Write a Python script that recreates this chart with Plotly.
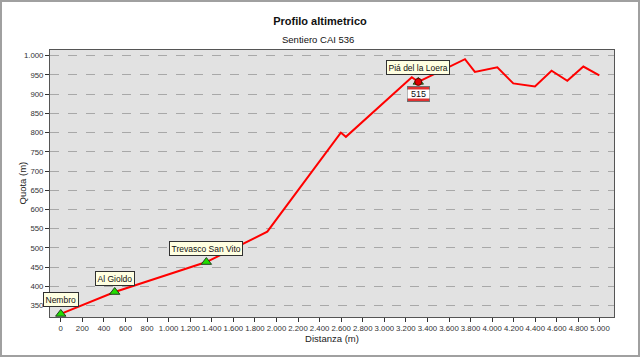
import plotly.graph_objects as go

# Profile data (distance in m, altitude in m)
distance = [0, 500, 1350, 1915, 2597, 2644, 3255, 3315, 3748, 3840, 4048, 4196, 4397, 4551, 4697, 4846, 4994]
altitude = [328, 385, 463, 542, 800, 789, 944, 932, 991, 958, 970, 928, 920, 961, 935, 972, 949]

# Waypoints
wp_names = ["Nembro", "Al Gioldo", "Trevasco San Vito", "Piá del la Loera"]
wp_dist = [0, 500, 1350, 3315]
wp_alt = [328, 385, 463, 932]

# Trail sign
sign_text = "515"
sign_dist = [3315]
sign_alt = [932]

FONT = "Liberation Sans, Arial, sans-serif"

fig = go.Figure()
fig.add_trace(go.Scatter(x=distance, y=altitude, mode="lines",
                         line=dict(color="#ff0000", width=2), hoverinfo="skip"))
fig.add_trace(go.Scatter(x=wp_dist, y=wp_alt, mode="markers",
                         marker=dict(symbol="triangle-up", size=9, color="#22dd00",
                                     line=dict(color="#204020", width=1))))
fig.add_trace(go.Scatter(x=sign_dist, y=sign_alt, mode="markers",
                         marker=dict(symbol="circle", size=7, color="#e00000",
                                     line=dict(color="#600000", width=1))))

for n, xd, yd in zip(wp_names, wp_dist, wp_alt):
    fig.add_annotation(x=xd, y=yd, text=n, showarrow=False, yshift=14,
                       bgcolor="#ffffe1", bordercolor="#303030", borderwidth=1, borderpad=1.5,
                       font=dict(family=FONT, size=8.5, color="#111111"))

for xd, yd in zip(sign_dist, sign_alt):
    fig.add_annotation(x=xd, y=yd, text="", showarrow=False, yshift=-12,
                       width=21, height=14, bgcolor="#e03030",
                       bordercolor="#707070", borderwidth=1, borderpad=0)
    fig.add_annotation(x=xd, y=yd, text=sign_text, showarrow=False, yshift=-12,
                       width=21, height=8, bgcolor="#ffffff", borderpad=0,
                       font=dict(family=FONT, size=9, color="#111111"))

fig.update_layout(
    width=640, height=357,
    margin=dict(l=50, r=26, t=50, b=40),
    paper_bgcolor="#ffffff", plot_bgcolor="#e2e2e2",
    showlegend=False,
    separators=",.",
    title=dict(text="<b>Profilo altimetrico</b>",
               x=0.5, xref="container", y=1 - 21 / 357, yref="container", yanchor="middle",
               font=dict(family=FONT, size=11, color="#111111")),
    font=dict(family=FONT, size=8, color="#222222"),
)
fig.add_annotation(text="Sentiero CAI 536", xref="paper", yref="paper",
                   x=(318 - 50) / 564, y=(317 - 40) / 267, showarrow=False,
                   xanchor="center", yanchor="middle",
                   font=dict(family=FONT, size=9.5, color="#111111"))
fig.add_annotation(text="Quota (m)", xref="paper", yref="paper",
                   x=(22 - 50) / 564, y=0.5, showarrow=False, textangle=-90,
                   xanchor="center", yanchor="middle",
                   font=dict(family=FONT, size=9.5, color="#222222"))
fig.update_xaxes(range=[-100, 5130], tickmode="linear", tick0=0, dtick=200,
                 separatethousands=True, tickangle=0,
                 ticks="outside", ticklen=4, tickcolor="#333333",
                 showline=True, linecolor="#555555", linewidth=1, mirror=True,
                 showgrid=False, zeroline=False,
                 title=dict(text="Distanza (m)", standoff=2,
                            font=dict(family=FONT, size=9.5, color="#222222")),
                 tickfont=dict(family=FONT, size=7.8, color="#333333"))
fig.update_yaxes(range=[320, 1015], tickmode="linear", tick0=350, dtick=50,
                 separatethousands=True,
                 ticks="outside", ticklen=4, tickcolor="#333333",
                 showline=True, linecolor="#555555", linewidth=1, mirror=True,
                 showgrid=True, gridcolor="#a8a8a8", griddash="dash", gridwidth=1,
                 zeroline=False,
                 tickfont=dict(family=FONT, size=7.8, color="#333333"))

# outer frame
fig.add_shape(type="rect", xref="paper", yref="paper",
              x0=(1 - 50) / 564, x1=(639 - 50) / 564,
              y0=(317 - 356) / 267, y1=(317 - 1) / 267,
              line=dict(color="#a0a0a0", width=2), layer="below")

fig.write_html("out.html", config={"displayModeBar": False},
               post_script="document.body.style.margin='0';")
